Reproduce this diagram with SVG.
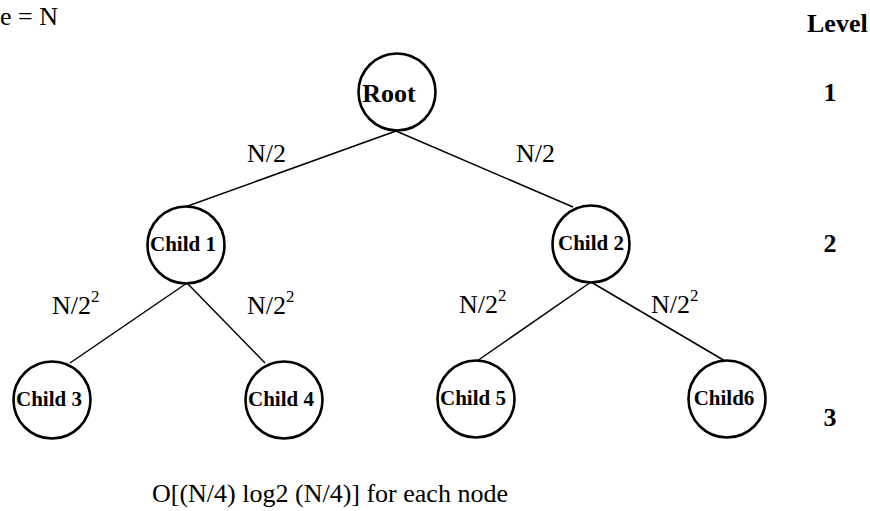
<svg xmlns="http://www.w3.org/2000/svg" width="870" height="511" viewBox="0 0 870 511">
  <style>
    .node circle { fill: #ffffff; stroke: #000000; stroke-width: 2.6; }
    .node text { font-family: "Liberation Serif", "Times New Roman", serif; font-weight: bold; font-size: 21px; text-anchor: middle; fill: #000000; }
    #root text { font-size: 26px; }
    .edges line { stroke: #000000; stroke-width: 1.5; }
    .lbl { font-family: "Liberation Serif", "Times New Roman", serif; font-size: 26px; fill: #000000; }
    .sup { font-size: 17px; }
    .lvl { font-family: "Liberation Serif", "Times New Roman", serif; font-weight: bold; font-size: 26px; fill: #000000; }
  </style>
  <rect width="870" height="511" fill="#ffffff"/>

  <!-- tree edges -->
  <g id="edges" class="edges">
    <line x1="396" y1="131" x2="185" y2="207"/>
    <line x1="396" y1="131" x2="573" y2="207"/>
    <line x1="187" y1="283" x2="70" y2="363"/>
    <line x1="187" y1="283" x2="265" y2="363"/>
    <line x1="591" y1="282" x2="477" y2="361"/>
    <line x1="591" y1="282" x2="725" y2="361"/>
  </g>

  <!-- nodes -->
  <g id="root" class="node">
    <circle cx="397" cy="92" r="38.5"/>
    <text x="389" y="102">Root</text>
  </g>
  <g id="child1" class="node">
    <circle cx="186" cy="245" r="38.5"/>
    <text x="183" y="251">Child 1</text>
  </g>
  <g id="child2" class="node">
    <circle cx="591" cy="244" r="38.5"/>
    <text x="591" y="250">Child 2</text>
  </g>
  <g id="child3" class="node">
    <circle cx="52" cy="400" r="38.5"/>
    <text x="49" y="406">Child 3</text>
  </g>
  <g id="child4" class="node">
    <circle cx="284" cy="400" r="38.5"/>
    <text x="281" y="406">Child 4</text>
  </g>
  <g id="child5" class="node">
    <circle cx="476" cy="399" r="38.5"/>
    <text x="473" y="405">Child 5</text>
  </g>
  <g id="child6" class="node">
    <circle cx="727" cy="399" r="38.5"/>
    <text x="724" y="405">Child6</text>
  </g>

  <!-- edge labels -->
  <g id="edge-labels">
    <text class="lbl" x="247" y="162">N/2</text>
    <text class="lbl" x="516" y="162">N/2</text>
    <text class="lbl" x="52" y="314">N/2<tspan class="sup" dy="-12">2</tspan></text>
    <text class="lbl" x="247" y="314">N/2<tspan class="sup" dy="-12">2</tspan></text>
    <text class="lbl" x="459" y="313">N/2<tspan class="sup" dy="-12">2</tspan></text>
    <text class="lbl" x="651" y="313">N/2<tspan class="sup" dy="-12">2</tspan></text>
  </g>

  <!-- headings and level column -->
  <text class="lbl" x="0" y="25" font-size="24">e = N</text>
  <text class="lvl" x="807" y="32">Level</text>
  <text class="lvl" x="830" y="101" text-anchor="middle">1</text>
  <text class="lvl" x="830" y="252" text-anchor="middle">2</text>
  <text class="lvl" x="830" y="426" text-anchor="middle">3</text>

  <text class="lbl" x="152" y="502" font-size="26.6">O[(N/4) log2 (N/4)] for each node</text>
</svg>
